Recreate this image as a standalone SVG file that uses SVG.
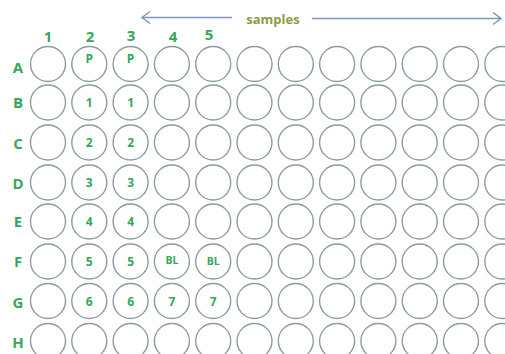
<svg xmlns="http://www.w3.org/2000/svg" width="505" height="354" viewBox="0 0 505 354">
<style>
.w{fill:#fff;stroke:#8c9c9c;stroke-width:1.4}
.lab{font-family:"Open Sans","Liberation Sans",sans-serif;font-weight:bold;fill:#35a85a;text-anchor:middle}
.hd{font-size:15px}
.in{font-size:12px}
.sm{font-family:"Open Sans","Liberation Sans",sans-serif;font-weight:bold;font-size:13px;fill:#8d9b45;text-anchor:middle}
.ar{stroke:#7f95bd;stroke-width:1.5;fill:none}
</style>
<rect width="505" height="354" fill="#fff"/>
<g id="connectors">
<polyline class="ar" points="232,17.5 142,17.5"/>
<polyline class="ar" points="150,11.5 142,17.5 150,23.5"/>
<polyline class="ar" points="312,18.5 501,18.5"/>
<polyline class="ar" points="493,12.5 501,18.5 493,24.5"/>
</g>
<g id="title"><text class="sm" x="273" y="24">samples</text></g>
<g id="col-labels">
<text class="lab hd" x="48" y="42">1</text>
<text class="lab hd" x="90" y="42">2</text>
<text class="lab hd" x="131" y="41">3</text>
<text class="lab hd" x="173" y="42">4</text>
<text class="lab hd" x="209" y="40">5</text>
</g>
<g id="row-labels">
<text class="lab hd" x="18" y="73">A</text>
<text class="lab hd" x="18" y="108">B</text>
<text class="lab hd" x="18" y="149">C</text>
<text class="lab hd" x="18" y="189">D</text>
<text class="lab hd" x="18" y="227">E</text>
<text class="lab hd" x="18" y="267">F</text>
<text class="lab hd" x="18" y="308">G</text>
<text class="lab hd" x="18" y="348">H</text>
</g>
<defs><circle id="wl" r="17.5" class="w"/></defs>
<g id="wells">
<g id="rowA">
<use href="#wl" x="48" y="64"/><use href="#wl" x="89.3" y="64"/><use href="#wl" x="130.6" y="64"/><use href="#wl" x="171.9" y="64"/><use href="#wl" x="213.2" y="64"/><use href="#wl" x="254.5" y="64"/><use href="#wl" x="295.8" y="64"/><use href="#wl" x="337.1" y="64"/><use href="#wl" x="378.4" y="64"/><use href="#wl" x="419.7" y="64"/><use href="#wl" x="461" y="64"/><use href="#wl" x="502.3" y="64"/>
</g>
<g id="rowB">
<use href="#wl" x="48" y="102.5"/><use href="#wl" x="89.3" y="102.5"/><use href="#wl" x="130.6" y="102.5"/><use href="#wl" x="171.9" y="102.5"/><use href="#wl" x="213.2" y="102.5"/><use href="#wl" x="254.5" y="102.5"/><use href="#wl" x="295.8" y="102.5"/><use href="#wl" x="337.1" y="102.5"/><use href="#wl" x="378.4" y="102.5"/><use href="#wl" x="419.7" y="102.5"/><use href="#wl" x="461" y="102.5"/><use href="#wl" x="502.3" y="102.5"/>
</g>
<g id="rowC">
<use href="#wl" x="48" y="142.5"/><use href="#wl" x="89.3" y="142.5"/><use href="#wl" x="130.6" y="142.5"/><use href="#wl" x="171.9" y="142.5"/><use href="#wl" x="213.2" y="142.5"/><use href="#wl" x="254.5" y="142.5"/><use href="#wl" x="295.8" y="142.5"/><use href="#wl" x="337.1" y="142.5"/><use href="#wl" x="378.4" y="142.5"/><use href="#wl" x="419.7" y="142.5"/><use href="#wl" x="461" y="142.5"/><use href="#wl" x="502.3" y="142.5"/>
</g>
<g id="rowD">
<use href="#wl" x="48" y="182.5"/><use href="#wl" x="89.3" y="182.5"/><use href="#wl" x="130.6" y="182.5"/><use href="#wl" x="171.9" y="182.5"/><use href="#wl" x="213.2" y="182.5"/><use href="#wl" x="254.5" y="182.5"/><use href="#wl" x="295.8" y="182.5"/><use href="#wl" x="337.1" y="182.5"/><use href="#wl" x="378.4" y="182.5"/><use href="#wl" x="419.7" y="182.5"/><use href="#wl" x="461" y="182.5"/><use href="#wl" x="502.3" y="182.5"/>
</g>
<g id="rowE">
<use href="#wl" x="48" y="221.5"/><use href="#wl" x="89.3" y="221.5"/><use href="#wl" x="130.6" y="221.5"/><use href="#wl" x="171.9" y="221.5"/><use href="#wl" x="213.2" y="221.5"/><use href="#wl" x="254.5" y="221.5"/><use href="#wl" x="295.8" y="221.5"/><use href="#wl" x="337.1" y="221.5"/><use href="#wl" x="378.4" y="221.5"/><use href="#wl" x="419.7" y="221.5"/><use href="#wl" x="461" y="221.5"/><use href="#wl" x="502.3" y="221.5"/>
</g>
<g id="rowF">
<use href="#wl" x="48" y="261.5"/><use href="#wl" x="89.3" y="261.5"/><use href="#wl" x="130.6" y="261.5"/><use href="#wl" x="171.9" y="261.5"/><use href="#wl" x="213.2" y="261.5"/><use href="#wl" x="254.5" y="261.5"/><use href="#wl" x="295.8" y="261.5"/><use href="#wl" x="337.1" y="261.5"/><use href="#wl" x="378.4" y="261.5"/><use href="#wl" x="419.7" y="261.5"/><use href="#wl" x="461" y="261.5"/><use href="#wl" x="502.3" y="261.5"/>
</g>
<g id="rowG">
<use href="#wl" x="48" y="301"/><use href="#wl" x="89.3" y="301"/><use href="#wl" x="130.6" y="301"/><use href="#wl" x="171.9" y="301"/><use href="#wl" x="213.2" y="301"/><use href="#wl" x="254.5" y="301"/><use href="#wl" x="295.8" y="301"/><use href="#wl" x="337.1" y="301"/><use href="#wl" x="378.4" y="301"/><use href="#wl" x="419.7" y="301"/><use href="#wl" x="461" y="301"/><use href="#wl" x="502.3" y="301"/>
</g>
<g id="rowH">
<use href="#wl" x="48" y="341"/><use href="#wl" x="89.3" y="341"/><use href="#wl" x="130.6" y="341"/><use href="#wl" x="171.9" y="341"/><use href="#wl" x="213.2" y="341"/><use href="#wl" x="254.5" y="341"/><use href="#wl" x="295.8" y="341"/><use href="#wl" x="337.1" y="341"/><use href="#wl" x="378.4" y="341"/><use href="#wl" x="419.7" y="341"/><use href="#wl" x="461" y="341"/><use href="#wl" x="502.3" y="341"/>
</g>
</g>
<g id="well-labels">
<text class="lab in" x="89.3" y="63">P</text><text class="lab in" x="130.6" y="63">P</text>
<text class="lab in" x="89.3" y="107">1</text><text class="lab in" x="130.6" y="107">1</text>
<text class="lab in" x="89.3" y="147">2</text><text class="lab in" x="130.6" y="147">2</text>
<text class="lab in" x="89.3" y="187">3</text><text class="lab in" x="130.6" y="187">3</text>
<text class="lab in" x="89.3" y="226">4</text><text class="lab in" x="130.6" y="226">4</text>
<text class="lab in" x="89.3" y="265.5">5</text><text class="lab in" x="130.6" y="265.5">5</text>
<text class="lab in" x="171.9" y="263.5" style="font-size:10.5px">BL</text><text class="lab in" x="213.2" y="265" style="font-size:10.5px">BL</text>
<text class="lab in" x="89.3" y="305.5">6</text><text class="lab in" x="130.6" y="305.5">6</text>
<text class="lab in" x="171.9" y="305.5">7</text><text class="lab in" x="213.2" y="305.5">7</text>
</g>
</svg>
